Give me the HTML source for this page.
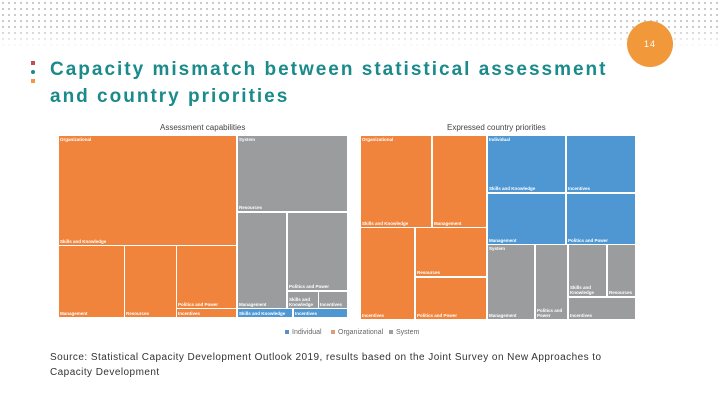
<!DOCTYPE html>
<html><head><meta charset="utf-8"><style>
*{margin:0;padding:0;box-sizing:border-box}
body{width:720px;height:405px;position:relative;background:#fff;overflow:hidden;font-family:"Liberation Sans",sans-serif}
#dots{position:absolute;left:0;top:0;width:720px;height:70px;
background-image:radial-gradient(circle,#c8c8c8 1px,transparent 1.3px);background-size:6px 6px;
-webkit-mask-image:linear-gradient(to bottom,#000 40%,transparent 68%);mask-image:linear-gradient(to bottom,#000 40%,transparent 68%)}
.c{position:absolute;color:#fff;font-size:4.5px;font-weight:bold;padding:1px}
.o{background:#F0843C}.g{background:#9A9C9E}.b{background:#4E97D3}
.l{position:absolute;left:1px;bottom:1px}
.t{position:absolute;left:1px;top:1px}
h1{position:absolute;left:50px;top:56px;font-size:19px;line-height:27px;color:#1a8a8a;letter-spacing:2px;font-weight:bold}
.src{position:absolute;left:50px;top:350px;font-size:10px;line-height:15px;color:#333;letter-spacing:0.45px}
.ct{position:absolute;top:123px;font-size:8px;color:#444}
.lg{position:absolute;top:329px;font-size:7px;color:#666}
.lg i{display:inline-block;width:4px;height:4px;margin-right:3px}
</style></head><body>
<div id="dots"></div>
<div style="position:absolute;left:627px;top:21px;width:46px;height:46px;border-radius:50%;background:#F0983A;color:#fff;font-size:9px;text-align:center;line-height:46px;letter-spacing:1px">14</div>
<div style="position:absolute;left:31px;top:61px;width:4px;height:4px;background:#c0504d"></div>
<div style="position:absolute;left:31px;top:70px;width:4px;height:4px;border-radius:50%;background:#1a8a8a"></div>
<div style="position:absolute;left:31px;top:79px;width:4px;height:4px;background:#F0983A"></div>
<h1>Capacity mismatch between statistical assessment<br>and country priorities</h1>

<div class="ct" style="left:160px">Assessment capabilities</div>
<div class="ct" style="left:447px">Expressed country priorities</div>

<div>
<div class="c o" style="left:59px;top:136px;width:177px;height:109px"><span class="t">Organizational</span><span class="l">Skills and Knowledge</span></div>
<div class="c o" style="left:59px;top:246px;width:65px;height:71px"><span class="l">Management</span></div>
<div class="c o" style="left:125px;top:246px;width:51px;height:71px"><span class="l">Resources</span></div>
<div class="c o" style="left:177px;top:246px;width:59px;height:62px"><span class="l">Politics and Power</span></div>
<div class="c o" style="left:177px;top:309px;width:59px;height:8px"><span class="l">Incentives</span></div>
<div class="c g" style="left:238px;top:136px;width:109px;height:75px"><span class="t">System</span><span class="l">Resources</span></div>
<div class="c g" style="left:238px;top:213px;width:48px;height:95px"><span class="l">Management</span></div>
<div class="c g" style="left:288px;top:213px;width:59px;height:77px"><span class="l">Politics and Power</span></div>
<div class="c g" style="left:288px;top:292px;width:30px;height:16px"><span class="l">Skills and Knowledge</span></div>
<div class="c g" style="left:319px;top:292px;width:28px;height:16px"><span class="l">Incentives</span></div>
<div class="c b" style="left:238px;top:309px;width:54px;height:8px"><span class="l">Skills and Knowledge</span></div>
<div class="c b" style="left:294px;top:309px;width:53px;height:8px"><span class="l">Incentives</span></div>
</div>

<div>
<div class="c o" style="left:361px;top:136px;width:70px;height:91px"><span class="t">Organizational</span><span class="l">Skills and Knowledge</span></div>
<div class="c o" style="left:433px;top:136px;width:53px;height:91px"><span class="l">Management</span></div>
<div class="c o" style="left:361px;top:228px;width:53px;height:91px"><span class="l">Incentives</span></div>
<div class="c o" style="left:416px;top:228px;width:70px;height:48px"><span class="l">Resources</span></div>
<div class="c o" style="left:416px;top:278px;width:70px;height:41px"><span class="l">Politics and Power</span></div>
<div class="c b" style="left:488px;top:136px;width:77px;height:56px"><span class="t">Individual</span><span class="l">Skills and Knowledge</span></div>
<div class="c b" style="left:567px;top:136px;width:68px;height:56px"><span class="l">Incentives</span></div>
<div class="c b" style="left:488px;top:194px;width:77px;height:50px"><span class="l">Management</span></div>
<div class="c b" style="left:567px;top:194px;width:68px;height:50px"><span class="l">Politics and Power</span></div>
<div class="c g" style="left:488px;top:245px;width:46px;height:74px"><span class="t">System</span><span class="l">Management</span></div>
<div class="c g" style="left:536px;top:245px;width:31px;height:74px"><span class="l">Politics and Power</span></div>
<div class="c g" style="left:569px;top:245px;width:37px;height:51px"><span class="l">Skills and Knowledge</span></div>
<div class="c g" style="left:608px;top:245px;width:27px;height:51px"><span class="l">Resources</span></div>
<div class="c g" style="left:569px;top:298px;width:66px;height:21px"><span class="l">Incentives</span></div>
</div>

<div class="lg" style="left:285px"><i style="background:#5a8fc0"></i>Individual</div>
<div class="lg" style="left:331px"><i style="background:#d9a07a"></i>Organizational</div>
<div class="lg" style="left:389px"><i style="background:#a0a0a0"></i>System</div>

<div class="src">Source: Statistical Capacity Development Outlook 2019, results based on the Joint Survey on New Approaches to<br>Capacity Development</div>
</body></html>
